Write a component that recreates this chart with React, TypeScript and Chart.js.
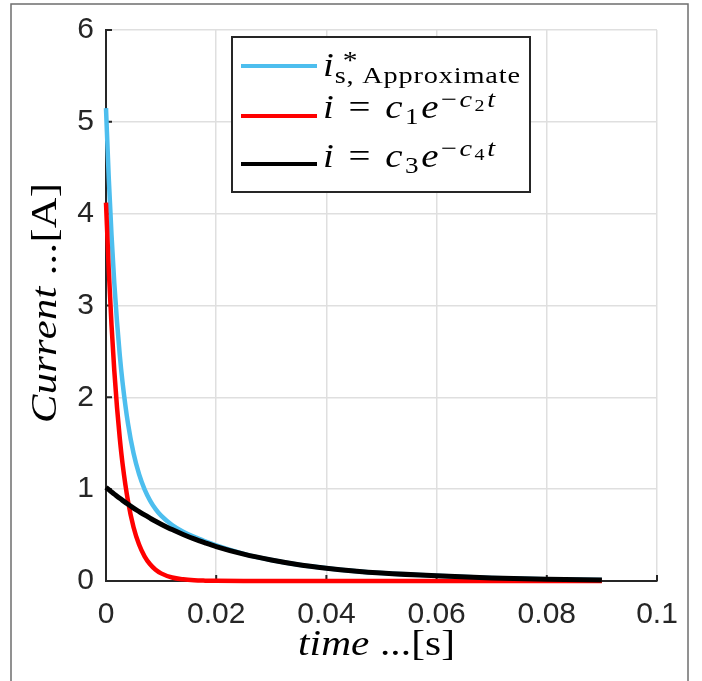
import React, { useEffect, useRef } from "react";
import { Chart, registerables } from "chart.js";

Chart.register(...registerables);

// ---- data ----
const timeS = [0, 0.0005, 0.001, 0.0015, 0.002, 0.0025, 0.003, 0.004, 0.005, 0.006, 0.007, 0.008, 0.009, 0.01, 0.012, 0.014, 0.016, 0.018, 0.02, 0.025, 0.03, 0.035, 0.04, 0.045, 0.05, 0.06, 0.07, 0.08, 0.09];
const approxCurrent = [5.15, 4.39, 3.77, 3.25, 2.82, 2.46, 2.165, 1.71, 1.39, 1.163, 0.998, 0.876, 0.783, 0.712, 0.61, 0.537, 0.48, 0.432, 0.388, 0.296, 0.229, 0.177, 0.14, 0.11, 0.087, 0.056, 0.034, 0.02, 0.012];
const fastFit = [4.12, 3.39, 2.79, 2.295, 1.889, 1.554, 1.279, 0.866, 0.586, 0.397, 0.269, 0.182, 0.123, 0.083, 0.038, 0.018, 0.008, 0.004, 0.002, 0, 0, 0, 0, 0, 0, 0, 0, 0, 0];
const slowFit = [1.02, 0.995, 0.97, 0.946, 0.923, 0.9, 0.878, 0.835, 0.794, 0.756, 0.719, 0.684, 0.65, 0.619, 0.56, 0.507, 0.458, 0.415, 0.375, 0.292, 0.228, 0.177, 0.14, 0.11, 0.087, 0.056, 0.034, 0.02, 0.012];
const xTickValues = [0, 0.02, 0.04, 0.06, 0.08, 0.1];
const xTickLabels = ["0", "0.02", "0.04", "0.06", "0.08", "0.1"];
const yTickValues = [0, 1, 2, 3, 4, 5, 6];
const yTickLabels = ["0", "1", "2", "3", "4", "5", "6"];

const BLUE = "#4DBEEE";
const RED = "#FF0000";
const BLACK = "#000000";
const INK = "#262626";
const SERIF = '"Liberation Serif", "Times New Roman", serif';
const SANS = '"Liberation Sans", Arial, Helvetica, sans-serif';

type Piece = { t: string; i?: boolean; s: number; dy?: number; stack?: boolean };

const fontOf = (p: Piece) => `${p.i ? "italic " : ""}${p.s}px ${SERIF}`;

function drawRich(ctx: CanvasRenderingContext2D, pieces: Piece[], x0: number, y0: number, targetW: number, rot = 0, maxSx = 1.18) {
  ctx.save();
  const widths: number[][] = pieces.map((p) => {
    ctx.font = fontOf(p);
    return Array.from(p.t).map((c) => ctx.measureText(c).width);
  });
  const layout = (sp: number) => {
    const pos: number[][] = [];
    let x = 0, prevStart = 0, prevEnd = 0;
    pieces.forEach((p, k) => {
      const start = p.stack ? prevStart : x;
      let cx = start;
      const ps: number[] = [];
      widths[k].forEach((w, j) => {
        ps.push(cx);
        cx += w + (j < widths[k].length - 1 || k < pieces.length - 1 ? sp : 0);
      });
      pos.push(ps);
      const end = cx;
      x = p.stack ? Math.max(prevEnd, end) : end;
      prevStart = start;
      prevEnd = end;
    });
    return { pos, total: x };
  };
  const w0 = layout(0).total;
  const sx = Math.min(maxSx, targetW / w0);
  let lo = 0, hi = 30;
  for (let it = 0; it < 40; it++) {
    const mid = (lo + hi) / 2;
    if (layout(mid).total * sx > targetW) hi = mid; else lo = mid;
  }
  const { pos } = layout(lo);
  ctx.translate(x0, y0);
  if (rot) ctx.rotate(rot);
  ctx.scale(sx, 1);
  ctx.fillStyle = "#000";
  ctx.textAlign = "left";
  ctx.textBaseline = "alphabetic";
  pieces.forEach((p, k) => {
    ctx.font = fontOf(p);
    Array.from(p.t).forEach((c, j) => ctx.fillText(c, pos[k][j], p.dy || 0));
  });
  ctx.restore();
}

const legendEntries: { color: string; pieces: Piece[]; y: number; base: number; w: number }[] = [
  {
    color: BLUE, y: 66, base: 75.7, w: 197,
    pieces: [
      { t: "i", i: true, s: 33 },
      { t: " *", s: 25, dy: -7 },
      { t: "s, Approximate", s: 24, dy: 7.6, stack: true },
    ],
  },
  {
    color: RED, y: 116, base: 118, w: 172,
    pieces: [
      { t: "i", i: true, s: 33 },
      { t: " = ", s: 33 },
      { t: "c", i: true, s: 33 },
      { t: "1", s: 23, dy: 6 },
      { t: "e", i: true, s: 33 },
      { t: "\u2212", s: 24, dy: -11 },
      { t: "c", i: true, s: 24, dy: -11 },
      { t: "2", s: 17, dy: -7 },
      { t: "t", i: true, s: 24, dy: -11 },
    ],
  },
  {
    color: BLACK, y: 164, base: 167, w: 172,
    pieces: [
      { t: "i", i: true, s: 33 },
      { t: " = ", s: 33 },
      { t: "c", i: true, s: 33 },
      { t: "3", s: 23, dy: 6 },
      { t: "e", i: true, s: 33 },
      { t: "\u2212", s: 24, dy: -11 },
      { t: "c", i: true, s: 24, dy: -11 },
      { t: "4", s: 17, dy: -7 },
      { t: "t", i: true, s: 24, dy: -11 },
    ],
  },
];

const decorPlugin = {
  id: "decor",
  beforeDatasetsDraw(chart: any) {
    const ctx: CanvasRenderingContext2D = chart.ctx;
    const xs = chart.scales.x, ys = chart.scales.y;
    const { left, bottom } = chart.chartArea;
    ctx.save();
    ctx.strokeStyle = INK;
    ctx.lineWidth = 2;
    ctx.beginPath();
    for (const v of xTickValues) {
      const px = xs.getPixelForValue(v);
      ctx.moveTo(px, bottom);
      ctx.lineTo(px, bottom - 6);
    }
    for (const v of yTickValues) {
      const py = ys.getPixelForValue(v);
      ctx.moveTo(left, py);
      ctx.lineTo(left + 6, py);
    }
    ctx.stroke();
    ctx.restore();
  },
  afterDatasetsDraw(chart: any) {
    const ctx: CanvasRenderingContext2D = chart.ctx;
    ctx.save();
    ctx.fillStyle = "#ffffff";
    ctx.fillRect(232, 37, 298, 155);
    ctx.strokeStyle = INK;
    ctx.lineWidth = 2;
    ctx.strokeRect(232, 37, 298, 155);
    for (const e of legendEntries) {
      ctx.strokeStyle = e.color;
      ctx.lineWidth = 4;
      ctx.beginPath();
      ctx.moveTo(241, e.y);
      ctx.lineTo(317, e.y);
      ctx.stroke();
      drawRich(ctx, e.pieces, 323, e.base, e.w);
    }
    ctx.restore();
  },
  afterDraw(chart: any) {
    const ctx: CanvasRenderingContext2D = chart.ctx;
    drawRich(ctx, [
      { t: "time", i: true, s: 35 },
      { t: " ...", s: 35 },
      { t: "[s]", s: 35 },
    ], 298, 655, 157);
    drawRich(ctx, [
      { t: "Current", i: true, s: 36 },
      { t: " ...", s: 36 },
      { t: "[A]", s: 36 },
    ], 56, 423, 240, -Math.PI / 2);
    ctx.save();
    ctx.strokeStyle = "#6e6e6e";
    ctx.lineWidth = 1.5;
    ctx.strokeRect(11, 4, 677, 700);
    ctx.restore();
  },
};

export default function App() {
  const ref = useRef<HTMLCanvasElement | null>(null);
  useEffect(() => {
    if (!ref.current) return;
    const mk = (ys: number[]) => timeS.map((t, k) => ({ x: t, y: ys[k] }));
    const chart = new Chart(ref.current, {
      type: "line",
      data: {
        datasets: [
          { label: "approx", data: mk(approxCurrent), borderColor: BLUE, borderWidth: 4.5, order: 3 },
          { label: "fast", data: mk(fastFit), borderColor: RED, borderWidth: 4.5, order: 2 },
          { label: "slow", data: mk(slowFit), borderColor: BLACK, borderWidth: 5, order: 1 },
        ] as any,
      },
      options: {
        responsive: false,
        maintainAspectRatio: false,
        animation: false,
        devicePixelRatio: 1,
        layout: { padding: { left: 46, right: 45, top: 22, bottom: 40 } },
        elements: {
          point: { radius: 0 },
          line: { cubicInterpolationMode: "monotone", fill: false, borderCapStyle: "butt" },
        },
        datasets: { line: { clip: false as any } },
        plugins: { legend: { display: false }, tooltip: { enabled: false }, title: { display: false } },
        scales: {
          x: {
            type: "linear",
            min: 0,
            max: 0.1,
            afterBuildTicks: (s: any) => { s.ticks = xTickValues.map((v) => ({ value: v })); },
            afterFit: (s: any) => { s.height = 60; },
            ticks: {
              callback: (_v: any, i: number) => xTickLabels[i],
              font: { family: SANS, size: 30 },
              color: INK,
              padding: 16,
              maxRotation: 0,
              autoSkip: false,
            },
            grid: { color: "#dfdfdf", lineWidth: 1.5, drawTicks: false },
            border: { display: true, color: INK, width: 2 },
          },
          y: {
            type: "linear",
            min: 0,
            max: 6,
            afterBuildTicks: (s: any) => { s.ticks = yTickValues.map((v) => ({ value: v })); },
            afterFit: (s: any) => { s.width = 60; },
            ticks: {
              callback: (_v: any, i: number) => yTickLabels[i],
              font: { family: SANS, size: 30 },
              color: INK,
              padding: 12,
              autoSkip: false,
            },
            grid: { color: "#dfdfdf", lineWidth: 1.5, drawTicks: false },
            border: { display: true, color: INK, width: 2 },
          },
        },
      } as any,
      plugins: [decorPlugin],
    });
    return () => chart.destroy();
  }, []);
  return (
    <canvas
      ref={ref}
      width={702}
      height={681}
      style={{ position: "fixed", left: 0, top: 0, display: "block", background: "#ffffff" }}
    />
  );
}
